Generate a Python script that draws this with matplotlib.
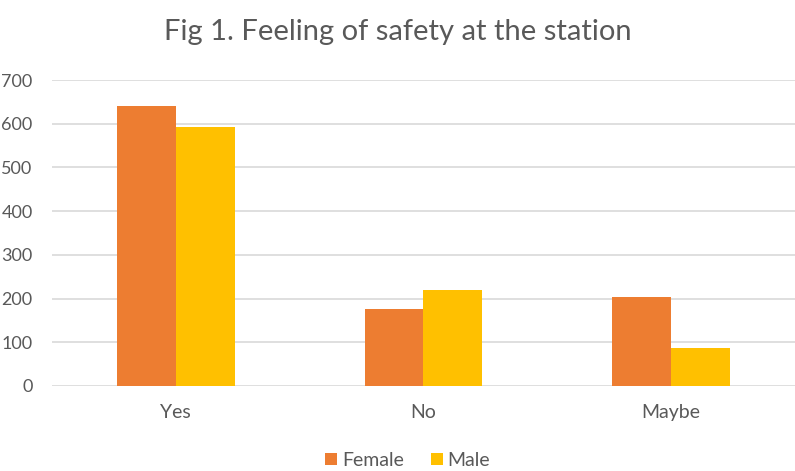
import numpy as np
import matplotlib.pyplot as plt

# survey answers per category
categories = ['Yes', 'No', 'Maybe']
female = [640, 177, 204]
male = [592, 220, 88]

plt.rcParams['font.family'] = ['Lato', 'DejaVu Sans']

fig = plt.figure(figsize=(7.95, 4.71), dpi=100)
ax = fig.add_axes([0.0654, 0.1805, 0.9346, 0.6495])

x = np.arange(len(categories))
w = 0.238
ax.bar(x - w / 2, female, w, color='#ED7D31', label='Female', zorder=3)
ax.bar(x + w / 2, male, w, color='#FFC000', label='Male', zorder=3)

ax.set_xlim(-0.5, 2.5)
ax.set_ylim(0, 700)
ax.set_yticks(range(0, 701, 100))
ax.set_xticks(x)
ax.set_xticklabels(categories)
ax.tick_params(axis='both', length=0, colors='#595959', labelsize=14)
ax.tick_params(axis='y', labelsize=13, pad=14)
ax.tick_params(axis='x', pad=13)
ax.grid(axis='y', color='#D9D9D9', linewidth=1.2, zorder=0)
for s in ax.spines.values():
    s.set_visible(False)

fig.text(0.5, 0.932, 'Fig 1. Feeling of safety at the station',
         ha='center', va='center', fontsize=21, color='#595959')

fig.legend(loc='center', bbox_to_anchor=(0.513, 0.023), ncol=2,
           frameon=False, handlelength=0.6, handleheight=0.6,
           handletextpad=0.25, columnspacing=1.4, fontsize=14,
           labelcolor='#595959')

plt.savefig('out.png')
